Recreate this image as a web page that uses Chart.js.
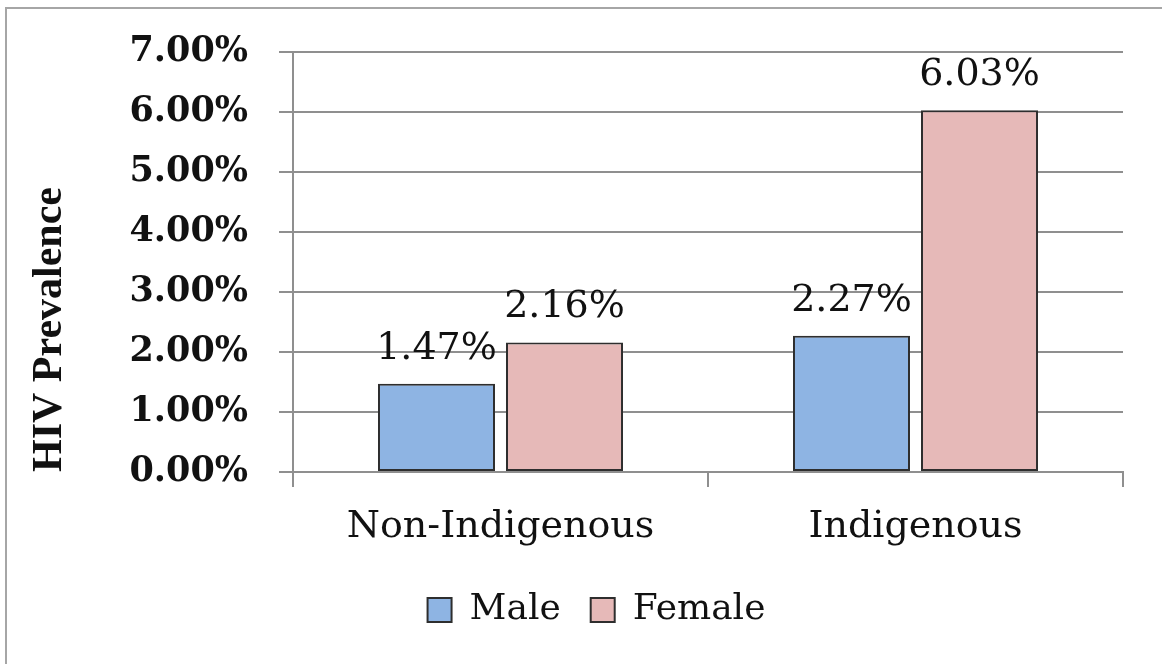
<!DOCTYPE html>
<html>
<head>
<meta charset="utf-8">
<script src="https://cdn.jsdelivr.net/npm/chart.js@4.4.0/dist/chart.umd.min.js"></script>
<style>
html, body { margin: 0; padding: 0; background: #fff; }
#wrap { position: relative; width: 1162px; height: 664px; overflow: hidden; }
#frame { position: absolute; left: 5px; top: 7px; width: 1200px; height: 700px;
         border-left: 2px solid #a6a6a6; border-top: 2px solid #a6a6a6; }
canvas { position: absolute; left: 0; top: 0; }
</style>
</head>
<body>
<div id="wrap">
  <div id="frame"></div>
  <canvas id="chart" width="1162" height="664"></canvas>
</div>
<script>
// data
const categories = ['Non-Indigenous', 'Indigenous'];
const maleValues = [1.47, 2.27];
const femaleValues = [2.16, 6.03];
const yMax = 7;
const yStep = 1;

const gridGray = '#8f8f8f';
const serif = "'DejaVu Serif', serif";

// labels above each bar
const barLabels = {
    id: 'barLabels',
    afterDatasetsDraw(chart) {
        const ctx = chart.ctx;
        ctx.save();
        ctx.font = '38px ' + serif;
        ctx.fillStyle = '#111';
        ctx.textAlign = 'center';
        ctx.textBaseline = 'alphabetic';
        chart.data.datasets.forEach((ds, i) => {
            chart.getDatasetMeta(i).data.forEach((bar, j) => {
                ctx.fillText(ds.data[j].toFixed(2) + '%', bar.x, bar.y - 25);
            });
        });
        ctx.restore();
    }
};

// legend sits a bit right of the plot centre in the original
const legendShift = {
    id: 'legendShift',
    afterLayout(chart) {
        chart.legend.left += 35;
        chart.legend.right += 35;
    }
};

new Chart(document.getElementById('chart').getContext('2d'), {
    type: 'bar',
    data: {
        labels: categories,
        datasets: [{
            label: 'Male',
            data: maleValues,
            backgroundColor: '#8eb4e3',
            borderColor: '#2e2e2e',
            borderWidth: 2,
            borderSkipped: false
        }, {
            label: 'Female',
            data: femaleValues,
            backgroundColor: '#e6b9b8',
            borderColor: '#2e2e2e',
            borderWidth: 2,
            borderSkipped: false
        }]
    },
    options: {
        responsive: false,
        animation: false,
        categoryPercentage: 0.617,
        barPercentage: 0.914,
        layout: { padding: { top: 51, right: 39, left: 0, bottom: 26 } },
        plugins: {
            tooltip: { enabled: false },
            legend: {
                position: 'bottom',
                labels: {
                    boxWidth: 24,
                    boxHeight: 24,
                    padding: 30,
                    color: '#111',
                    font: { family: serif, size: 36 }
                }
            }
        },
        scales: {
            x: {
                offset: true,
                grid: { offset: true, drawOnChartArea: false, tickLength: 15, color: gridGray, lineWidth: 2 },
                border: { color: gridGray, width: 2 },
                ticks: { color: '#111', padding: 17, font: { family: serif, size: 38 } },
                afterFit(scale) { scale.height = 90; }
            },
            y: {
                min: 0,
                max: yMax,
                ticks: {
                    stepSize: yStep,
                    padding: 31,
                    color: '#111',
                    font: { family: serif, size: 35, weight: 'bold' },
                    callback: v => v.toFixed(2) + '%'
                },
                grid: { color: gridGray, lineWidth: 2, tickLength: 14 },
                border: { color: gridGray, width: 2 },
                title: {
                    display: true,
                    text: 'HIV Prevalence',
                    align: 'start',
                    color: '#111',
                    padding: { top: 25, bottom: 0 },
                    font: { family: "'Liberation Serif', serif", size: 42, weight: 'bold' }
                },
                afterFit(scale) { scale.width = 293; }
            }
        }
    },
    plugins: [barLabels, legendShift]
});
</script>
</body>
</html>
